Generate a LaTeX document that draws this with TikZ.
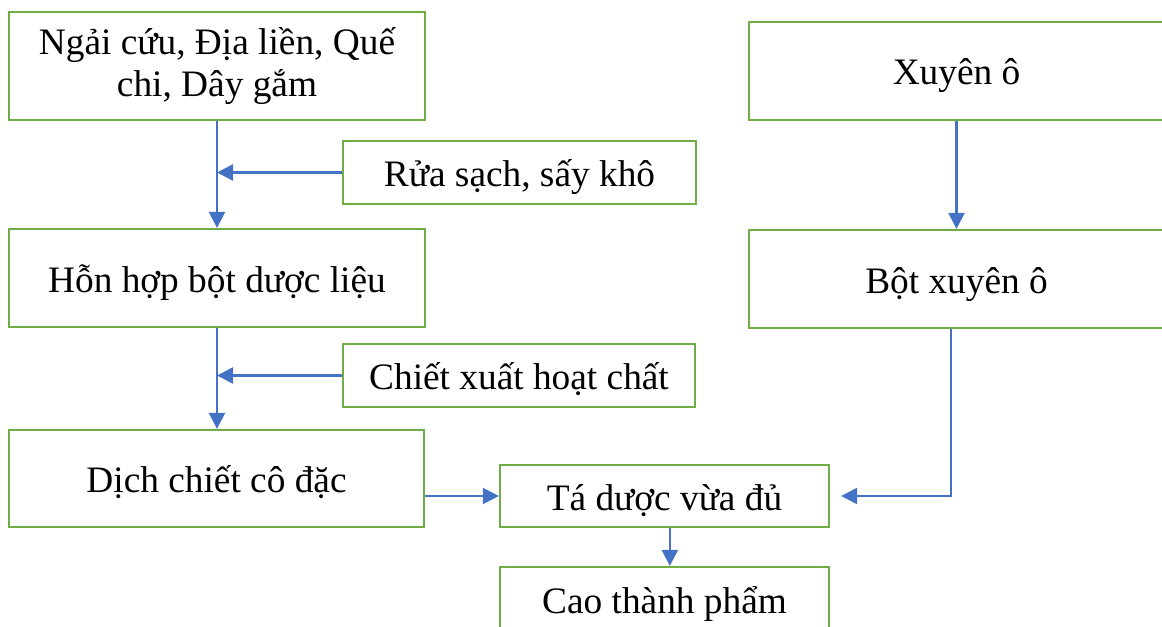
\documentclass[tikz,border=0pt]{standalone}
\usepackage{fontspec}
\setmainfont{Liberation Serif}
\usetikzlibrary{arrows.meta}
\definecolor{boxgreen}{HTML}{70AD47}
\definecolor{arrowblue}{HTML}{4472C4}
\begin{document}
\begin{tikzpicture}[x=0.75pt,y=-0.75pt,
  box/.style={draw=boxgreen,line width=1.7pt,inner sep=0pt,align=center,
    font=\fontsize{28}{31}\selectfont},
  onebox/.style={box,text height=26pt,text depth=5pt},
  flow/.style={draw=arrowblue,line width=1.8pt,
    -{Triangle[length=12pt,width=12pt]}}]
\useasboundingbox (0,0) rectangle (1162,627);
\begin{scope}
\clip (0,0) rectangle (1162,627);
\node[box,minimum width=312pt,minimum height=81pt] (A) at (217,66) {Ngải cứu, Địa liền, Quế\\chi, Dây gắm};
\node[onebox,minimum width=264.75pt,minimum height=47.25pt] (R) at (519.5,172.5) {Rửa sạch, sấy khô};
\node[onebox,minimum width=312pt,minimum height=73.5pt] (B) at (217,278) {Hỗn hợp bột dược liệu};
\node[onebox,minimum width=264pt,minimum height=47.25pt] (C) at (519,375.5) {Chiết xuất hoạt chất};
\node[onebox,minimum width=311.25pt,minimum height=72.75pt] (D) at (216.5,478.5) {Dịch chiết cô đặc};
\node[onebox,minimum width=246.75pt,minimum height=46.5pt] (T) at (664.5,496) {Tá dược vừa đủ};
\node[onebox,minimum width=246.75pt,minimum height=48.75pt] (K) at (664.5,599.5) {Cao thành phẩm};
\node[onebox,minimum width=311.25pt,minimum height=73.5pt] (X) at (956.5,71) {Xuyên ô};
\node[onebox,minimum width=311.25pt,minimum height=73.5pt] (Y) at (956.5,279) {Bột xuyên ô};
\coordinate (Tin) at ([xshift=8.25pt]T.east);
\coordinate (Tout) at ([xshift=4pt]T.south);
\coordinate (Yout) at ([xshift=-4pt]Y.south);
\draw[flow] (A.south) -- (B.north);
\draw[flow] (R.west) -- (R.west -| A.south);
\draw[flow] (B.south) -- (B.south |- D.north);
\draw[flow] (C.west) -- (C.west -| B.south);
\draw[flow] (D.east |- T.west) -- (T.west);
\draw[flow] (Tout) -- (Tout |- K.north);
\draw[flow] (X.south) -- (Y.north);
\draw[flow] (Yout) |- (Tin);
\end{scope}
\end{tikzpicture}
\end{document}
